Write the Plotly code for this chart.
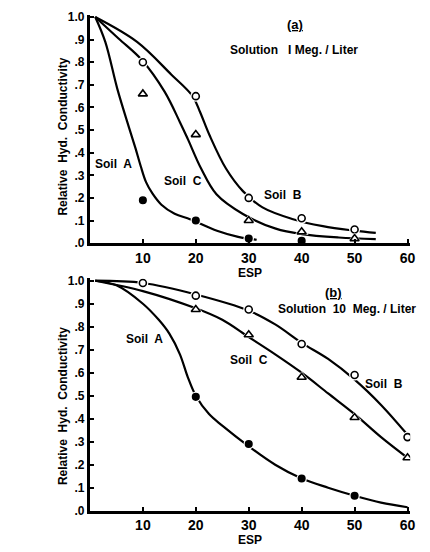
import plotly.graph_objects as go

# ---------- data ----------
# Panel (a): Solution 1 Meg./Liter
a_esp = [10, 20, 30, 40, 50]
a_soilB_pts = [0.80, 0.65, 0.20, 0.11, 0.06]
a_soilC_pts = [0.66, 0.48, 0.10, 0.05, 0.02]
a_soilA_esp = [10, 20, 30, 40]
a_soilA_pts = [0.19, 0.10, 0.02, 0.01]

a_curveA_x = [1, 2.9, 5.2, 7.4, 8.6, 9.6, 10.6, 11.8, 13.5, 16, 19, 24, 28, 31.5]
a_curveA_y = [1.0, 0.89, 0.68, 0.51, 0.42, 0.34, 0.27, 0.22, 0.17, 0.13, 0.105, 0.055, 0.028, 0.015]
a_curveC_x = [1, 5.4, 9.8, 14.1, 17, 18.5, 21, 23.9, 28.9, 35.1, 40, 47, 54]
a_curveC_y = [1.0, 0.905, 0.81, 0.67, 0.535, 0.46, 0.33, 0.216, 0.129, 0.064, 0.04, 0.025, 0.018]
a_curveB_x = [1, 8.9, 15.4, 19.4, 20.8, 22.6, 25.7, 28.9, 32.6, 38.2, 44, 50, 54]
a_curveB_y = [1.0, 0.89, 0.745, 0.65, 0.58, 0.477, 0.33, 0.23, 0.158, 0.107, 0.075, 0.055, 0.045]

# Panel (b): Solution 10 Meg./Liter
b_soilB_esp = [10, 20, 30, 40, 50, 60]
b_soilB_pts = [0.99, 0.935, 0.875, 0.725, 0.59, 0.32]
b_soilC_esp = [20, 30, 40, 50, 60]
b_soilC_pts = [0.875, 0.765, 0.58, 0.405, 0.23]
b_soilA_esp = [20, 30, 40, 50]
b_soilA_pts = [0.495, 0.29, 0.14, 0.065]

b_curveA_x = [1, 5, 10, 13, 15, 17, 18.5, 20, 22.5, 25, 30, 35, 40, 45, 50, 55, 60]
b_curveA_y = [1.0, 0.98, 0.9, 0.83, 0.77, 0.68, 0.58, 0.5, 0.42, 0.37, 0.28, 0.2, 0.14, 0.1, 0.065, 0.035, 0.015]
b_curveB_x = [1, 10, 20, 30, 35, 40, 45, 50, 55, 60]
b_curveB_y = [1.0, 0.99, 0.94, 0.87, 0.81, 0.73, 0.66, 0.57, 0.46, 0.33]
b_curveC_x = [1, 10, 20, 25, 30, 35, 40, 45, 50, 55, 60]
b_curveC_y = [1.0, 0.955, 0.88, 0.83, 0.755, 0.68, 0.6, 0.51, 0.42, 0.32, 0.23]

x_ticks = [10, 20, 30, 40, 50, 60]
x_ticktext = ["10", "20", "30", "40", "50", "60"]
y_ticks = [0, 0.1, 0.2, 0.3, 0.4, 0.5, 0.6, 0.7, 0.8, 0.9, 1.0]
y_ticktext = [".0", ".1", ".2", ".3", ".4", ".5", ".6", ".7", ".8", ".9", "1.0"]

# ---------- figure ----------
FONT = "Liberation Sans, Arial, sans-serif"
fig = go.Figure()

def curve(x, y, xa, ya):
    fig.add_trace(go.Scatter(x=x, y=y, mode="lines", xaxis=xa, yaxis=ya,
                             line=dict(color="black", width=2.2, shape="spline", smoothing=1.0),
                             showlegend=False, hoverinfo="skip"))

def pts(x, y, xa, ya, symbol, fill, size):
    # white halo (small gap in the line around the mark)
    fig.add_trace(go.Scatter(x=x, y=y, mode="markers", xaxis=xa, yaxis=ya,
                             marker=dict(symbol=symbol, size=size + 4, color="white"),
                             showlegend=False, hoverinfo="skip"))
    fig.add_trace(go.Scatter(x=x, y=y, mode="markers", xaxis=xa, yaxis=ya,
                             marker=dict(symbol=symbol, size=size, color=fill,
                                         line=dict(color="black", width=1.6)),
                             showlegend=False))

# panel (a)
curve(a_curveA_x, a_curveA_y, "x", "y")
curve(a_curveC_x, a_curveC_y, "x", "y")
curve(a_curveB_x, a_curveB_y, "x", "y")
pts(a_esp, a_soilB_pts, "x", "y", "circle", "white", 7)
pts(a_esp, a_soilC_pts, "x", "y", "triangle-up", "white", 8)
pts(a_soilA_esp, a_soilA_pts, "x", "y", "circle", "black", 6.5)

# panel (b)
curve(b_curveA_x, b_curveA_y, "x2", "y2")
curve(b_curveC_x, b_curveC_y, "x2", "y2")
curve(b_curveB_x, b_curveB_y, "x2", "y2")
pts(b_soilB_esp, b_soilB_pts, "x2", "y2", "circle", "white", 7)
pts(b_soilC_esp, b_soilC_pts, "x2", "y2", "triangle-up", "white", 8)
pts(b_soilA_esp, b_soilA_pts, "x2", "y2", "circle", "black", 6.5)

xtick_font = dict(family=FONT, size=14, color="black", weight="bold")
ytick_font = dict(family=FONT, size=12, color="black", weight="bold")
title_font = dict(family=FONT, size=12, color="black", weight="bold")

xcommon = dict(range=[0, 60.5], tickvals=x_ticks, ticktext=x_ticktext, ticks="inside",
               ticklen=4, tickwidth=2, tickcolor="black", showline=True, linecolor="black",
               linewidth=3, showgrid=False, zeroline=False, tickfont=xtick_font,
               title=dict(text="ESP", font=title_font, standoff=4), domain=[91/430, 415/430])
ycommon = dict(range=[0, 1.01], tickvals=y_ticks, ticktext=y_ticktext, ticks="inside",
               ticklen=4, tickwidth=2, tickcolor="black", showline=True, linecolor="black",
               linewidth=3, showgrid=False, zeroline=False, tickfont=ytick_font)

fig.update_layout(
    width=430, height=552, margin=dict(l=0, r=0, t=0, b=0),
    paper_bgcolor="white", plot_bgcolor="white",
    xaxis=dict(xcommon, anchor="y"),
    yaxis=dict(ycommon, anchor="x", domain=[(552-244)/552, (552-11)/552]),
    xaxis2=dict(xcommon, anchor="y2"),
    yaxis2=dict(ycommon, anchor="x2", domain=[(552-517)/552, (552-280)/552]),
)

ann_font = dict(family=FONT, size=12, color="black", weight="bold")
anns = [
    ("x", "y", 38.8, 0.965, "<u>(a)</u>", 13),
    ("x", "y", 38.5, 0.855, "Solution   I Meg. / Liter", 12),
    ("x", "y", 4.5, 0.35, "Soil  A", 12),
    ("x", "y", 17.5, 0.275, "Soil  C", 12),
    ("x", "y", 36.5, 0.215, "Soil  B", 12),
    ("x2", "y2", 46.0, 0.95, "<u>(b)</u>", 13),
    ("x2", "y2", 48.5, 0.877, "Solution  10  Meg. / Liter", 12),
    ("x2", "y2", 10.3, 0.745, "Soil  A", 12),
    ("x2", "y2", 30.0, 0.655, "Soil  C", 12),
    ("x2", "y2", 55.5, 0.55, "Soil  B", 12),
]
for xa, ya, x, y, t, s in anns:
    fig.add_annotation(xref=xa, yref=ya, x=x, y=y, text=t, showarrow=False,
                       font=dict(ann_font, size=s))

# y-axis titles (rotated), placed like the original
for yc in [(552 - 135) / 552, (552 - 410) / 552]:
    fig.add_annotation(xref="paper", yref="paper", x=64/430, y=yc,
                       xanchor="center", yanchor="middle",
                       text="Relative  Hyd.  Conductivity", textangle=-90,
                       showarrow=False, font=title_font)

fig.write_html("out.html")
